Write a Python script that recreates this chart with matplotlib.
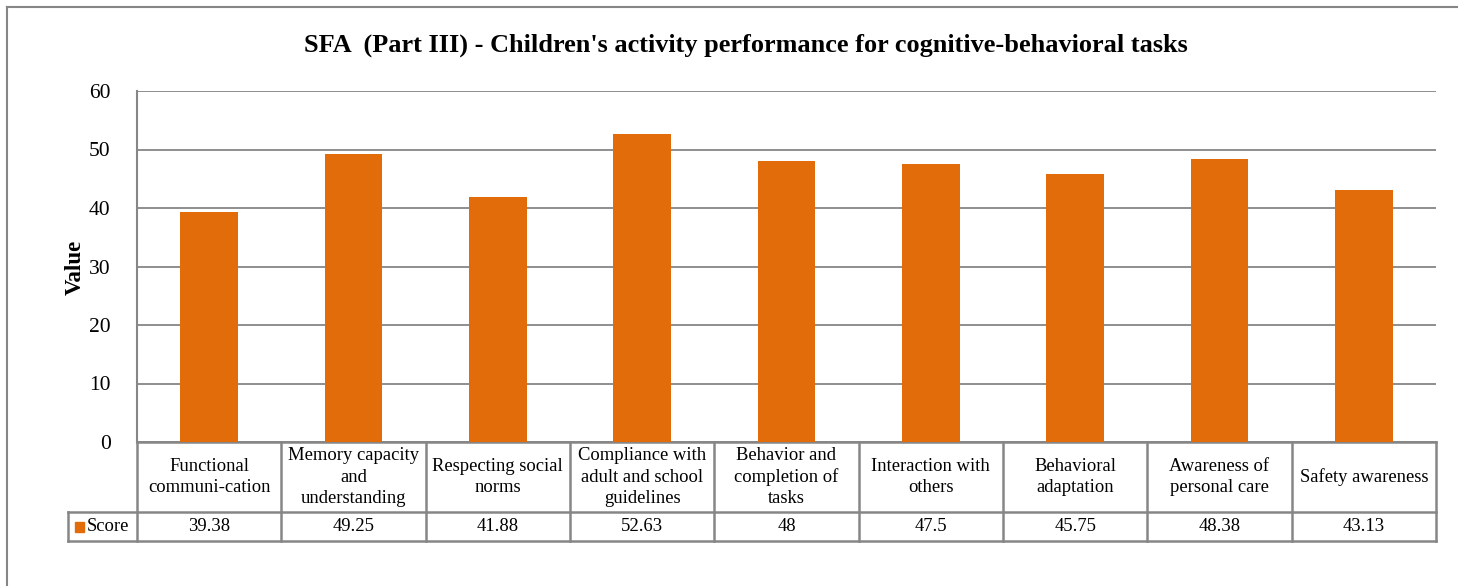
import numpy as np
import matplotlib
matplotlib.use("Agg")
import matplotlib.pyplot as plt
from matplotlib.patches import Rectangle
from matplotlib.lines import Line2D

# ── Data ─────────────────────────────────────────────────────────────────────
categories = [
    "Functional\ncommuni-cation",
    "Memory capacity\nand\nunderstanding",
    "Respecting social\nnorms",
    "Compliance with\nadult and school\nguidelines",
    "Behavior and\ncompletion of\ntasks",
    "Interaction with\nothers",
    "Behavioral\nadaptation",
    "Awareness of\npersonal care",
    "Safety awareness",
]
scores = [39.38, 49.25, 41.88, 52.63, 48, 47.5, 45.75, 48.38, 43.13]
score_labels = ["39.38", "49.25", "41.88", "52.63", "48", "47.5", "45.75", "48.38", "43.13"]
series_name = "Score"
yticks = [0, 10, 20, 30, 40, 50, 60]

BAR_COLOR = "#E36C0A"
LINE_COLOR = "#868686"
FONT = "Liberation Serif"

plt.rcParams["font.family"] = FONT

W, H = 1458, 586
fig = plt.figure(figsize=(W / 100, H / 100), dpi=100)

# plot area in pixel terms
left_px, right_px, top_px, bot_px = 137, 1436, 91, 442
pw = right_px - left_px
ph = bot_px - top_px
ax = fig.add_axes([left_px / W, 1 - bot_px / H, pw / W, ph / H])

n = len(categories)
x = np.arange(n)
ax.bar(x, scores, width=0.4, color=BAR_COLOR, zorder=3)
ax.set_xlim(-0.5, n - 0.5)
ax.set_ylim(0, 60)
ax.set_yticks(yticks)
ax.set_yticklabels([str(t) for t in yticks], fontsize=15.5)
ax.set_xticks([])
ax.tick_params(axis="y", length=0, pad=19)
ax.grid(axis="y", color=LINE_COLOR, lw=1.3, zorder=0)
for s in ["top", "right", "bottom"]:
    ax.spines[s].set_visible(False)
ax.spines["left"].set_color(LINE_COLOR)
ax.spines["left"].set_linewidth(1.5)

ax.set_ylabel("Value", fontsize=16.5, fontweight="bold", va="center")
ax.yaxis.set_label_coords(-(left_px - 75) / pw, (bot_px - 267) / ph)

# ── Data table under the axis ────────────────────────────────────────────────
row1 = -(512 - bot_px) / ph
row2 = -(541 - bot_px) / ph
tbl_left = -(left_px - 68) / pw
tr = ax.transAxes
kw = dict(color=LINE_COLOR, lw=1.8, transform=tr, clip_on=False)

ax.add_line(Line2D([0, 1], [0, 0], **kw))
ax.add_line(Line2D([tbl_left, 1], [row1, row1], **kw))
ax.add_line(Line2D([tbl_left, 1], [row2, row2], **kw))
ax.add_line(Line2D([tbl_left, tbl_left], [row1, row2], **kw))
for k in range(n + 1):
    xx = k / n
    ax.add_line(Line2D([xx, xx], [0, row2], **kw))

for k in range(n):
    xc = (k + 0.5) / n
    ax.text(xc, row1 / 2, categories[k], transform=tr, ha="center", va="center",
            fontsize=13.4, linespacing=1.32)
    ax.text(xc, (row1 + row2) / 2, score_labels[k], transform=tr,
            ha="center", va="center", fontsize=13.4)

# legend key + series name
key_x = -(left_px - 75) / pw
key_w = 9 / pw
key_h = 10 / ph
ymid = (row1 + row2) / 2
ax.add_patch(Rectangle((key_x, ymid - key_h / 2), key_w, key_h, transform=tr,
                       color=BAR_COLOR, clip_on=False))
ax.text(-(left_px - 87) / pw, ymid, series_name, transform=tr,
        ha="left", va="center", fontsize=13.4)

# ── Title & outer frame ──────────────────────────────────────────────────────
fig.text(746 / W, 1 - 45 / H,
         "SFA  (Part III) - Children's activity performance for cognitive-behavioral tasks",
         ha="center", va="center", fontsize=18.9, fontweight="bold")

fig.add_artist(Line2D([7 / W, 7 / W], [0, 1 - 7 / H], color=LINE_COLOR, lw=1.5,
                      transform=fig.transFigure))
fig.add_artist(Line2D([7 / W, 1], [1 - 7 / H, 1 - 7 / H], color=LINE_COLOR, lw=1.5,
                      transform=fig.transFigure))

fig.savefig("out.png", dpi=100)
